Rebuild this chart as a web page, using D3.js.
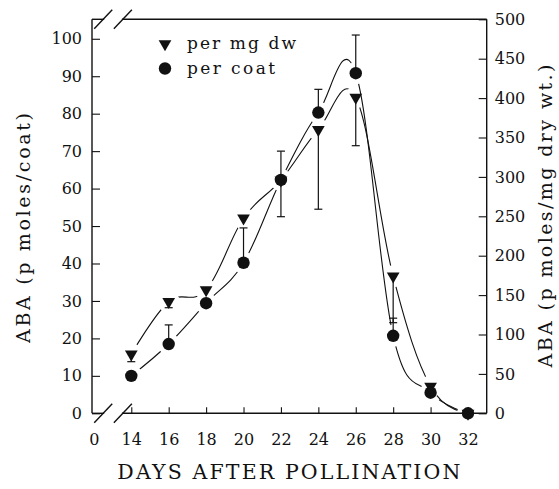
<!DOCTYPE html>
<html>
<head>
<meta charset="utf-8">
<script src="https://cdn.jsdelivr.net/npm/d3@7"></script>
<style>
  body { margin: 0; background: #fff; }
  svg { display: block; }
  text { font-family: "DejaVu Serif", serif; fill: #111; }
  .frame line, .brk line { stroke: #111; stroke-width: 1.4; }
  .tick line { stroke: #111; stroke-width: 1.1; }
  .curve { fill: none; stroke: #111; stroke-width: 1.1; }
  .err { stroke: #111; stroke-width: 1.2; }
</style>
</head>
<body>
<script>
// days after pollination
var days = [14, 16, 18, 20, 22, 24, 26, 28, 30, 32];
// ABA per coat (left axis)
var perCoat = [10, 18.5, 29.4, 40.2, 62.3, 80.3, 90.8, 20.7, 5.5, 0];
var perCoatErr = [0, 5.1, 0, 9.3, 7.7, 6.2, 10.2, 4.7, 0, 0];
// ABA per mg dry wt (right axis)
var perMgDw = [75, 141.6, 156.5, 247.5, 296, 360, 401, 174, 34, 0];
var perMgDwErr = [9.5, 7.6, 0, 0, 46.5, 101, 61.4, 59, 0, 0];

var xTicks = [12, 14, 16, 18, 20, 22, 24, 26, 28, 30, 32];
var xTickLabels = ["0", "14", "16", "18", "20", "22", "24", "26", "28", "30", "32"];
var leftTicks = [0, 10, 20, 30, 40, 50, 60, 70, 80, 90, 100];
var rightTicks = [0, 50, 100, 150, 200, 250, 300, 350, 400, 450, 500];

var W = 559, H = 489;
var L = 92, R = 486.7, T = 19.3, B = 413.3;

var svg = d3.select('body').append('svg').attr('width', W).attr('height', H);

var x = d3.scaleLinear().domain([11.9, 33]).range([L, R]);
var yL = d3.scaleLinear().domain([0, 105.2]).range([B, T]);
var yR = d3.scaleLinear().domain([0, 500]).range([B, T]);

// frame with broken x axis
var frame = svg.append('g').attr('class', 'frame');
var b0 = x(12.55), b1 = x(13.5);
frame.append('line').attr('x1', L).attr('y1', T).attr('x2', L).attr('y2', B);
frame.append('line').attr('x1', R).attr('y1', T).attr('x2', R).attr('y2', B);
[T, B].forEach(function(yy) {
  frame.append('line').attr('x1', L).attr('y1', yy).attr('x2', b0).attr('y2', yy);
  frame.append('line').attr('x1', b1).attr('y1', yy).attr('x2', R).attr('y2', yy);
});
var brk = svg.append('g').attr('class', 'brk');
[T, B].forEach(function(yy) {
  [x(12.5), x(13.55)].forEach(function(cx) {
    brk.append('line').attr('x1', cx - 9).attr('y1', yy + 9.5).attr('x2', cx + 9).attr('y2', yy - 9.5);
  });
});

// axes
var xAxis = svg.append('g').attr('transform', 'translate(0,' + B + ')')
  .call(d3.axisBottom(x).tickValues(xTicks).tickSize(-6).tickSizeOuter(0).tickPadding(20)
    .tickFormat(function(d, i) { return xTickLabels[i]; }));
xAxis.select('.domain').remove();
xAxis.selectAll('.tick').filter(function(d) { return d === 12; }).select('line').remove();
xAxis.selectAll('text').attr('font-size', 16).attr('font-family', '"DejaVu Serif", serif');

var lAxis = svg.append('g').attr('transform', 'translate(' + L + ',0)')
  .call(d3.axisLeft(yL).tickValues(leftTicks).tickSize(-8).tickSizeOuter(0).tickPadding(10));
lAxis.select('.domain').remove();
lAxis.selectAll('text').attr('font-size', 16).attr('font-family', '"DejaVu Serif", serif');

var rAxis = svg.append('g').attr('transform', 'translate(' + R + ',0)')
  .call(d3.axisRight(yR).tickValues(rightTicks).tickSize(-8).tickSizeOuter(0).tickPadding(8));
rAxis.select('.domain').remove();
rAxis.selectAll('text').attr('font-size', 16).attr('font-family', '"DejaVu Serif", serif');

// axis titles
svg.append('text').attr('x', (L + R) / 2 - 0.5).attr('y', 479)
  .attr('text-anchor', 'middle').attr('font-size', 20.5)
  .attr('textLength', 343).attr('lengthAdjust', 'spacing')
  .text('DAYS AFTER POLLINATION');
svg.append('text').attr('transform', 'translate(30,228) rotate(-90)')
  .attr('text-anchor', 'middle').attr('font-size', 19)
  .attr('textLength', 230).attr('lengthAdjust', 'spacing')
  .text('ABA (p moles/coat)');
svg.append('text').attr('transform', 'translate(552,216) rotate(-90)')
  .attr('text-anchor', 'middle').attr('font-size', 19)
  .attr('textLength', 303).attr('lengthAdjust', 'spacing')
  .text('ABA (p moles/mg dry wt.)');

// series
var coatPts = days.map(function(d, i) { return [x(d), yL(perCoat[i])]; });
var dwPts = days.map(function(d, i) { return [x(d), yR(perMgDw[i])]; });

var defs = svg.append('defs');
function addMask(id, pts) {
  var m = defs.append('mask').attr('id', id).attr('maskUnits', 'userSpaceOnUse')
    .attr('x', 0).attr('y', 0).attr('width', W).attr('height', H);
  m.append('rect').attr('width', W).attr('height', H).attr('fill', '#fff');
  m.selectAll('circle').data(pts).enter().append('circle')
    .attr('cx', function(p) { return p[0]; }).attr('cy', function(p) { return p[1]; })
    .attr('r', 11).attr('fill', '#000');
}
addMask('mCoat', coatPts);
addMask('mDw', dwPts);

var line = d3.line().curve(d3.curveCardinal.tension(-0.1));
svg.append('path').attr('class', 'curve').attr('d', line(coatPts)).attr('mask', 'url(#mCoat)');
svg.append('path').attr('class', 'curve').attr('d', line(dwPts)).attr('mask', 'url(#mDw)');

// error bars: per coat upward, per mg dw downward
var eg = svg.append('g');
days.forEach(function(d, i) {
  var cx = x(d);
  if (perCoatErr[i] > 0) {
    var y0 = yL(perCoat[i]), y1 = yL(perCoat[i] + perCoatErr[i]);
    eg.append('line').attr('class', 'err').attr('x1', cx).attr('x2', cx).attr('y1', y0).attr('y2', y1);
    eg.append('line').attr('class', 'err').attr('x1', cx - 4).attr('x2', cx + 4).attr('y1', y1).attr('y2', y1);
  }
  if (perMgDwErr[i] > 0) {
    var z0 = yR(perMgDw[i]), z1 = yR(perMgDw[i] - perMgDwErr[i]);
    eg.append('line').attr('class', 'err').attr('x1', cx).attr('x2', cx).attr('y1', z0).attr('y2', z1);
    eg.append('line').attr('class', 'err').attr('x1', cx - 4).attr('x2', cx + 4).attr('y1', z1).attr('y2', z1);
  }
});

var tri = d3.symbol().type(d3.symbolTriangle).size(70);
svg.selectAll('.tri').data(dwPts).enter().append('path')
  .attr('d', tri).attr('fill', '#111')
  .attr('transform', function(p) { return 'translate(' + p[0] + ',' + p[1] + ') rotate(180)'; });
svg.selectAll('.dot').data(coatPts).enter().append('circle')
  .attr('cx', function(p) { return p[0]; }).attr('cy', function(p) { return p[1]; })
  .attr('r', 6.2).attr('fill', '#111');

// legend
var lg = svg.append('g');
lg.append('path').attr('d', tri).attr('fill', '#111').attr('transform', 'translate(165,44) rotate(180)');
lg.append('circle').attr('cx', 165).attr('cy', 68.5).attr('r', 6.2).attr('fill', '#111');
lg.append('text').attr('x', 187).attr('y', 49).attr('font-size', 17)
  .attr('textLength', 109).attr('lengthAdjust', 'spacing').text('per mg dw');
lg.append('text').attr('x', 187).attr('y', 73.5).attr('font-size', 17)
  .attr('textLength', 88).attr('lengthAdjust', 'spacing').text('per coat');
</script>
</body>
</html>
